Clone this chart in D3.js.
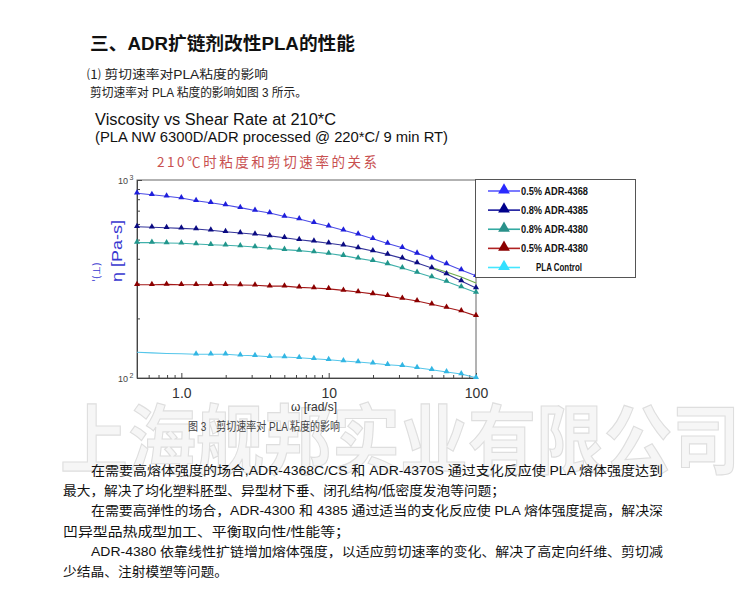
<!DOCTYPE html>
<html><head><meta charset="utf-8">
<script src="https://cdn.jsdelivr.net/npm/d3@7"></script>
<style>
html,body{margin:0;padding:0;background:#fff;}
svg{display:block;}
</style></head>
<body>
<svg id="c" width="750" height="600"></svg>
<script>
// ---------- DATA ----------
const shearRates = [0.5, 0.631, 0.794, 1, 1.259, 1.585, 1.995, 2.512, 3.162, 3.981, 5.012, 6.31, 7.943, 10, 12.59, 15.85, 19.95, 25.12, 31.62, 39.81, 50.12, 63.1, 79.43, 100];
const seriesNames = ["0.5% ADR-4368", "0.8% ADR-4385", "0.8% ADR-4380", "0.5% ADR-4380", "PLA Control"];
const adr4368_05 = [857, 843, 828, 811, 786, 768, 748, 725, 701, 681, 654, 635, 608, 584, 558, 532, 505, 478, 455, 426, 403, 376, 351, 328];
const adr4385_08 = [581, 577, 574, 570, 566, 557, 548, 540, 532, 522, 511, 499, 490, 479, 468, 454, 438, 421, 402, 381, 359, 335, 309, 285];
const adr4380_08 = [483, 483, 481, 479, 475, 471, 468, 464, 459, 452, 445, 440, 433, 425, 415, 402, 391, 377, 359, 341, 324, 307, 288, 270];
const adr4380_05 = [296, 296, 297, 296, 296, 296, 296, 295, 294, 291, 291, 287, 285, 282, 277, 272, 266, 260, 252, 245, 236, 227, 218, 206];
const plaControl = [135, 134, 133, 132.5, 131.8, 131.8, 131.8, 130.2, 129.6, 128.1, 127.6, 126.6, 125.2, 123.7, 121.9, 120.4, 118.7, 116.7, 115.4, 112.7, 110.1, 107.2, 104.8, 100.3];
const markerFrom = [0, 0, 0, 0, 4];
const fitRates = [50.12, 63.1, 79.43, 100];
const fitValues = [361, 343, 324, 302];
const xTickValues = [1, 10, 100];
const xTickLabels = ["1.0", "10", "100"];
const yTickValues = [100, 1000];
const yTickExp = ["2", "3"];

const seriesValues = [adr4368_05, adr4385_08, adr4380_08, adr4380_05, plaControl];
const lineColors = ["#4b4be6", "#34349a", "#3fb0aa", "#a31818", "#55c6ea"];
const markColors = ["#1f1fdc", "#0b0b82", "#22968c", "#8b0000", "#33b6e3"];
const legLineColors = ["#5a5aff", "#1a1a9e", "#33aaa2", "#b02222", "#44e6ff"];
const legMarkColors = ["#2a2aff", "#00008b", "#2a918a", "#8b0000", "#33e0ff"];

const svg = d3.select("#c");
const cjk = "'Liberation Sans', Arial, 'Noto Sans CJK SC', sans-serif";

// ---------- watermark ----------
svg.append("text").attr("x", 60).attr("y", 468)
  .attr("textLength", 680).attr("lengthAdjust", "spacingAndGlyphs")
  .style("font-family", "'Noto Sans CJK SC'").style("font-size", "76px").style("font-weight", "bold")
  .attr("fill", "#f6f6f6").attr("stroke", "#dedede").attr("stroke-width", 1.2)
  .text("上海舰邦实业有限公司");

// ---------- header texts ----------
function txt(x, y, s, size, len, opts = {}) {
  const t = svg.append("text").attr("x", x).attr("y", y)
    .style("font-family", opts.family || cjk).style("font-size", size + "px")
    .style("font-weight", opts.weight || "normal")
    .attr("fill", opts.fill || "#111").text(s);
  if (len) t.attr("textLength", len).attr("lengthAdjust", opts.adj || "spacingAndGlyphs");
  return t;
}
txt(90, 50, "三、ADR扩链剂改性PLA的性能", 18, 265, {weight: "bold"});
txt(87, 78.5, "⑴ 剪切速率对PLA粘度的影响", 12, 181, {fill: "#222"});
txt(90, 96.5, "剪切速率对 PLA 粘度的影响如图 3 所示。", 12.5, 217, {fill: "#222"});
txt(95, 125, "Viscosity vs Shear Rate at 210*C", 16, 241, {family: "'Liberation Sans', Arial, sans-serif"});
txt(95, 142, "(PLA NW 6300D/ADR processed @ 220*C/ 9 min RT)", 15, 353, {family: "'Liberation Sans', Arial, sans-serif"});
txt(157, 167, "210℃时粘度和剪切速率的关系", 13.5, 220, {fill: "#c85050", family: "'Noto Sans CJK SC', sans-serif", adj: "spacing"});

// ---------- chart ----------
const x = d3.scaleLog().domain([0.5, 100]).range([137, 476]);
const y = d3.scaleLog().domain([100, 1000]).range([378, 180]);

// frame
svg.append("rect").attr("x", 137).attr("y", 180).attr("width", 339).attr("height", 198)
  .attr("fill", "none").attr("stroke", "#666").attr("stroke-width", 1);

// x axis ticks (inside)
const xMinor = x.ticks().filter(v => xTickValues.indexOf(v) < 0);
svg.append("g").attr("transform", "translate(0,378)")
  .call(d3.axisBottom(x).tickValues(xMinor).tickSize(-3).tickFormat(""))
  .call(g => g.select(".domain").attr("stroke", "#444"))
  .call(g => g.selectAll(".tick line").attr("stroke", "#444"));
svg.append("g").attr("transform", "translate(0,378)")
  .call(d3.axisBottom(x).tickValues(xTickValues).tickSize(-5).tickPadding(10)
    .tickFormat((d, i) => xTickLabels[i]))
  .call(g => g.select(".domain").remove())
  .call(g => g.selectAll(".tick line").attr("stroke", "#444"))
  .call(g => g.selectAll(".tick text").attr("fill", "#333")
    .style("font-family", "'Liberation Sans', Arial, sans-serif").style("font-size", "14px"));

// y axis ticks (inside)
const yMinor = y.ticks().filter(v => yTickValues.indexOf(v) < 0);
svg.append("g").attr("transform", "translate(137,0)")
  .call(d3.axisLeft(y).tickValues(yMinor).tickSize(-3).tickFormat(""))
  .call(g => g.select(".domain").attr("stroke", "#444"))
  .call(g => g.selectAll(".tick line").attr("stroke", "#444"));
svg.append("g").attr("transform", "translate(137,0)")
  .call(d3.axisLeft(y).tickValues(yTickValues).tickSize(-5).tickFormat(""))
  .call(g => g.select(".domain").remove())
  .call(g => g.selectAll(".tick line").attr("stroke", "#444"));
yTickValues.forEach((v, i) => {
  const t = svg.append("text").attr("x", 118).attr("y", y(v) + 4)
    .style("font-family", "'Liberation Sans', Arial, sans-serif").style("font-size", "9px")
    .attr("fill", "#444");
  t.append("tspan").text("10");
  t.append("tspan").attr("dx", 1.5).attr("dy", -4).style("font-size", "7px").text(yTickExp[i]);
});

// axis titles
txt(314, 411, "ω [rad/s]", 12, null, {family: "'Liberation Sans', Arial, sans-serif", fill: "#333"})
  .attr("text-anchor", "middle");
svg.append("text").attr("transform", "translate(121.5,251) rotate(-90)")
  .attr("text-anchor", "middle").attr("textLength", 62).attr("lengthAdjust", "spacingAndGlyphs")
  .style("font-family", "'Liberation Sans', Arial, sans-serif").style("font-size", "15px")
  .attr("fill", "#3838d0").text("η [Pa-s]");
svg.append("text").attr("transform", "translate(100,272) rotate(-90)")
  .attr("text-anchor", "middle")
  .style("font-family", "'DejaVu Sans', sans-serif").style("font-size", "10px")
  .attr("fill", "#3838d0").text("'(⊥)");

// curves
const line = d3.line().x(d => x(d[0])).y(d => y(d[1]));
const tri = d3.symbol().type(d3.symbolTriangle);
const plot = svg.append("g");
seriesValues.forEach((vals, si) => {
  const pts = shearRates.map((r, i) => [r, vals[i]]);
  plot.append("path").datum(pts).attr("d", line)
    .attr("fill", "none").attr("stroke", lineColors[si]).attr("stroke-width", 1.1);
});
// fit segment
plot.append("path").datum(fitRates.map((r, i) => [r, fitValues[i]])).attr("d", line)
  .attr("fill", "none").attr("stroke", "#6cab4c").attr("stroke-width", 1.1);
seriesValues.forEach((vals, si) => {
  const pts = shearRates.map((r, i) => [r, vals[i], i]).filter(p => p[2] >= markerFrom[si]);
  plot.selectAll(null).data(pts).enter().append("path")
    .attr("d", tri.size(16))
    .attr("transform", d => `translate(${x(d[0])},${y(d[1]) - 0.5})`)
    .attr("fill", markColors[si]);
});

// legend
const leg = svg.append("g");
leg.append("rect").attr("x", 475.5).attr("y", 179.5).attr("width", 160).attr("height", 98)
  .attr("fill", "#fff").attr("stroke", "#555").attr("stroke-width", 1);
const legY = d3.scalePoint().domain(seriesNames).range([191, 267.5]);
seriesNames.forEach((n, i) => {
  const yy = legY(n);
  leg.append("line").attr("x1", 488).attr("x2", 520).attr("y1", yy).attr("y2", yy)
    .attr("stroke", legLineColors[i]).attr("stroke-width", 1.6);
  leg.append("path").attr("d", tri.size(60)).attr("transform", `translate(504,${yy - 1})`)
    .attr("fill", legMarkColors[i]);
  leg.append("text").attr("x", i === 4 ? 536 : 521).attr("y", yy + 3.5)
    .attr("textLength", i === 4 ? 46 : 67).attr("lengthAdjust", "spacingAndGlyphs")
    .style("font-family", "'Liberation Sans', Arial, sans-serif").style("font-size", "10px")
    .style("font-weight", "bold").attr("fill", "#111").text(n);
});

// caption & paragraphs
txt(188, 431, "图 3　剪切速率对 PLA 粘度的影响", 12, 152, {fill: "#444"});
const paraLines = [
  "在需要高熔体强度的场合,ADR-4368C/CS 和 ADR-4370S 通过支化反应使 PLA 熔体强度达到",
  "最大，解决了均化塑料胚型、异型材下垂、闭孔结构/低密度发泡等问题；",
  "在需要高弹性的场合，ADR-4300 和 4385 通过适当的支化反应使 PLA 熔体强度提高，解决深",
  "凹异型品热成型加工、平衡取向性/性能等；",
  "ADR-4380 依靠线性扩链增加熔体强度，以适应剪切速率的变化、解决了高定向纤维、剪切减",
  "少结晶、注射模塑等问题。"
];
const paraX = [91, 63, 91, 63, 91, 63];
const paraY = [475, 494.5, 515, 535.8, 555.8, 575.8];
const paraLen = [572, 442, 572, 287, 572, 165];
paraLines.forEach((s, i) => txt(paraX[i], paraY[i], s, 13, paraLen[i], {fill: "#111"}));
</script>
</body></html>
